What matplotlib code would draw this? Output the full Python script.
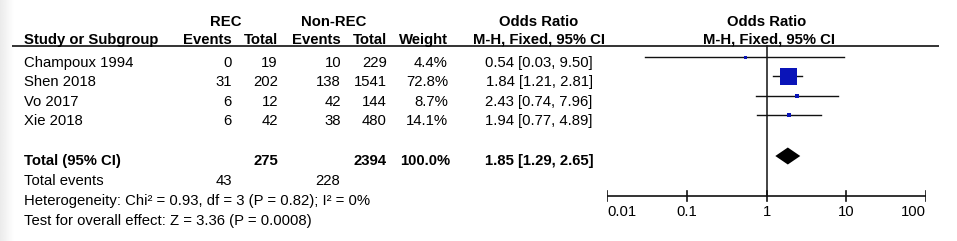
import numpy as np
import matplotlib
matplotlib.use("Agg")
import matplotlib.pyplot as plt

# study level data (REC vs Non-REC)
studies = ["Champoux 1994", "Shen 2018", "Vo 2017", "Xie 2018"]
rec_events = [0, 31, 6, 6]
rec_total = [19, 202, 12, 42]
non_events = [10, 138, 42, 38]
non_total = [229, 1541, 144, 480]
weights = [4.4, 72.8, 8.7, 14.1]
odds = [0.54, 1.84, 2.43, 1.94]
ci_low = [0.03, 1.21, 0.74, 0.77]
ci_high = [9.50, 2.81, 7.96, 4.89]

# pooled result
total_rec = 275
total_non = 2394
total_weight = 100.0
events_rec = 43
events_non = 228
pooled_or = 1.85
pooled_low = 1.29
pooled_high = 2.65
heterogeneity = "Heterogeneity: Chi² = 0.93, df = 3 (P = 0.82); I² = 0%"
overall = "Test for overall effect: Z = 3.36 (P = 0.0008)"

ticks = [0.01, 0.1, 1, 10, 100]
tick_labels = ["0.01", "0.1", "1", "10", "100"]

plt.rcParams['font.family'] = ['Liberation Sans', 'DejaVu Sans']
FS = 10.7
W, H = 957, 241

fig = plt.figure(figsize=(W / 100, H / 100), dpi=100)

# table part, pixel coordinates
ax = fig.add_axes([0, 0, 1, 1])
ax.set_xlim(0, W)
ax.set_ylim(H, 0)
ax.axis("off")

# faint shadow at the left border
grad = np.linspace(0.92, 1.0, 40).reshape(1, -1)
ax.imshow(grad, extent=[0, 14, H, 0], cmap="gray", vmin=0, vmax=1, aspect="auto", zorder=0)

# column right edges
c_ev1, c_tot1, c_ev2, c_tot2, c_w = 232, 278, 341, 387, 448
c_or = 539
x_left = 24

def txt(x, y, s, ha="left", bold=False):
    ax.text(x, y, s, ha=ha, va="baseline", fontsize=FS,
            fontweight="bold" if bold else "normal", color="black")

# headers
txt(226, 26, "REC", ha="center", bold=True)
txt(334, 26, "Non-REC", ha="center", bold=True)
txt(c_or, 26, "Odds Ratio", ha="center", bold=True)
txt(767, 26, "Odds Ratio", ha="center", bold=True)
txt(x_left, 44, "Study or Subgroup", bold=True)
txt(c_ev1, 44, "Events", ha="right", bold=True)
txt(c_tot1, 44, "Total", ha="right", bold=True)
txt(c_ev2, 44, "Events", ha="right", bold=True)
txt(c_tot2, 44, "Total", ha="right", bold=True)
txt(c_w, 44, "Weight", ha="right", bold=True)
txt(c_or, 44, "M-H, Fixed, 95% CI", ha="center", bold=True)
txt(769, 44, "M-H, Fixed, 95% CI", ha="center", bold=True)
ax.plot([12, 939], [46, 46], color="#111111", lw=1.2, solid_capstyle="butt")

# study rows
base0, pitch = 67, 19.4
for i, s in enumerate(studies):
    y = base0 + i * pitch
    txt(x_left, y, s)
    txt(c_ev1, y, str(rec_events[i]), ha="right")
    txt(c_tot1, y, str(rec_total[i]), ha="right")
    txt(c_ev2, y, str(non_events[i]), ha="right")
    txt(c_tot2, y, str(non_total[i]), ha="right")
    txt(c_w, y, f"{weights[i]:.1f}%", ha="right")
    txt(c_or, y, f"{odds[i]:.2f} [{ci_low[i]:.2f}, {ci_high[i]:.2f}]", ha="center")

# totals
y_tot = 165
txt(x_left, y_tot, "Total (95% CI)", bold=True)
txt(c_tot1, y_tot, str(total_rec), ha="right", bold=True)
txt(c_tot2, y_tot, str(total_non), ha="right", bold=True)
txt(c_w + 2, y_tot, f"{total_weight:.1f}%", ha="right", bold=True)
txt(c_or, y_tot, f"{pooled_or:.2f} [{pooled_low:.2f}, {pooled_high:.2f}]", ha="center", bold=True)
txt(x_left, 185, "Total events")
txt(c_ev1, 185, str(events_rec), ha="right")
txt(c_ev2 - 1, 185, str(events_non), ha="right")
txt(x_left, 205, heterogeneity)
txt(x_left, 224.5, overall)

# forest plot, log x scale
fx0, fx1 = 607, 926
fp = fig.add_axes([fx0 / W, 0, (fx1 - fx0) / W, 1])
fp.set_xscale("log")
fp.set_xlim(ticks[0], ticks[-1])
fp.set_ylim(H, 0)
fp.axis("off")

marker_px = [3, 17, 4, 5]
for i in range(len(studies)):
    y = base0 + i * pitch - 10
    fp.plot([ci_low[i], ci_high[i]], [y, y], color="#111111", lw=1.0, clip_on=False)
    fp.plot(odds[i], y, marker="s", ms=marker_px[i] * 0.72, mew=0,
            color="#0a14b8", zorder=3, clip_on=False)

# pooled diamond
yd = 156
fp.fill([pooled_low, pooled_or, pooled_high, pooled_or],
        [yd, yd - 8.5, yd, yd + 8.5], color="black", lw=0, zorder=3)

# line of no effect and axis
y_ax = 196
fp.plot([1, 1], [46, y_ax], color="#111111", lw=1.1, zorder=1)
fp.plot([ticks[0], ticks[-1]], [y_ax, y_ax], color="#111111", lw=1.2, solid_capstyle="butt")
for k, t in enumerate(ticks):
    fp.plot([t, t], [y_ax - 5, y_ax + 5], color="#111111", lw=1.2)
    ha = "center"
    if k == 0:
        ha = "left"
    elif k == len(ticks) - 1:
        ha = "right"
    fp.text(t, 216, tick_labels[k], ha=ha, va="baseline", fontsize=FS, color="black")

fig.savefig("out.png", dpi=100)
